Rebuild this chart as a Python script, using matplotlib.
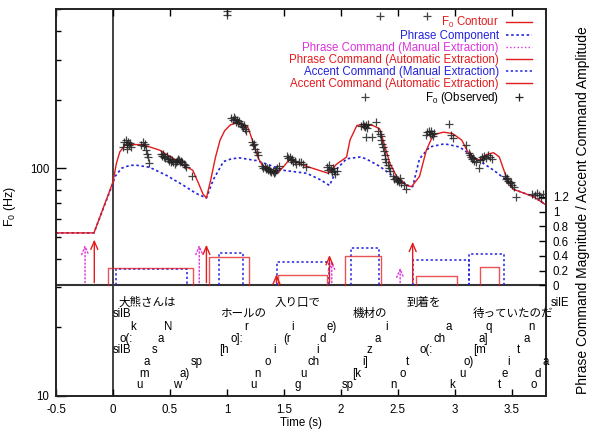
import numpy as np
import matplotlib
matplotlib.use('Agg')
import matplotlib.pyplot as plt
from matplotlib.lines import Line2D
from matplotlib.ticker import LogLocator, NullFormatter

plt.rcParams['font.family'] = ['Liberation Sans', 'Noto Sans CJK JP']
plt.rcParams['font.size'] = 8.3
plt.rcParams['mathtext.fontset'] = 'custom'
plt.rcParams['mathtext.rm'] = 'Liberation Sans'
plt.rcParams['mathtext.it'] = 'Liberation Sans:italic'

RED = '#e41a1c'
BLUE = '#2222dd'
MAG = '#dd33dd'

# F0 contour (model output)
f0_t = [-0.5, -0.167, 0.0, 0.03, 0.06, 0.105, 0.16, 0.26, 0.41, 0.56, 0.65, 0.70, 0.75, 0.79, 0.82,
        0.86, 0.90, 0.94, 0.98, 1.03, 1.10, 1.18, 1.23, 1.27, 1.31, 1.39, 1.46, 1.50, 1.54, 1.57,
        1.65, 1.75, 1.89, 1.96, 2.05, 2.08, 2.14, 2.20, 2.28, 2.34, 2.37, 2.43, 2.49, 2.58, 2.62,
        2.69, 2.75, 2.81, 2.90, 2.98, 3.06, 3.13, 3.22, 3.28, 3.34, 3.39, 3.45, 3.51, 3.69, 3.8]
f0_v = [52, 52, 87, 105, 118, 126, 127, 127, 120, 108, 101, 98, 86, 77, 74,
        90, 112, 133, 146, 155, 159, 153, 130, 112, 103, 97, 97, 102, 108, 109,
        104, 100, 95, 104, 112, 133, 154, 156, 154, 149, 133, 105, 92, 84, 83,
        92, 120, 140, 144, 142, 133, 114, 108, 115, 117, 112, 92, 81, 75, 69]

# phrase component
ph_t = [-0.5, -0.167, 0.0, 0.018, 0.076, 0.15, 0.21, 0.32, 0.47, 0.62, 0.73, 0.82,
        0.88, 0.97, 1.04, 1.11, 1.26, 1.38, 1.49, 1.70, 1.82, 1.90,
        1.97, 2.05, 2.17, 2.22, 2.34, 2.46, 2.59, 2.63,
        2.69, 2.78, 2.91, 3.04, 3.19, 3.34, 3.45, 3.51, 3.69, 3.8]
ph_v = [52, 52, 86, 92, 100, 103, 103, 101, 93, 84, 77.5, 74,
        89, 107, 110, 111, 108, 103, 98, 95, 89, 84,
        100, 110, 112, 110, 102, 92, 84, 83,
        110, 124, 128, 124, 110, 98, 89, 81, 75, 69]

# observed F0
obs_t = [0.09, 0.10, 0.11, 0.12, 0.13, 0.14, 0.15, 0.12, 0.16,
         0.25, 0.26, 0.27, 0.28, 0.29, 0.30, 0.31, 0.32,
         0.42, 0.43, 0.44, 0.45, 0.46, 0.47, 0.48, 0.49, 0.50, 0.51, 0.52, 0.53, 0.54, 0.55,
         0.56, 0.57, 0.58, 0.59, 0.60, 0.61, 0.62, 0.63, 0.64, 0.69,
         1.04, 1.05, 1.06, 1.07, 1.08, 1.09, 1.10, 1.11, 1.12, 1.13, 1.14, 1.15, 1.16, 1.17,
         1.22, 1.23, 1.24, 1.25, 1.26, 1.27,
         1.31, 1.32, 1.33, 1.34, 1.35, 1.36, 1.37, 1.38, 1.39, 1.40, 1.41, 1.42, 1.43, 1.44, 1.46,
         1.53, 1.54, 1.55, 1.56, 1.57, 1.58, 1.60, 1.61, 1.63, 1.65, 1.67, 1.69,
         1.88, 1.89, 1.90, 1.91, 1.92, 1.93, 1.94, 1.95, 1.97,
         2.18, 2.19, 2.20, 2.21, 2.22, 2.23, 2.24, 2.22, 2.27, 2.31,
         2.33, 2.34, 2.35, 2.355, 2.36, 2.37, 2.38, 2.385, 2.39, 2.40, 2.41, 2.42, 2.43,
         2.46, 2.47, 2.48, 2.49, 2.50, 2.51, 2.52, 2.53, 2.55, 2.57,
         2.75, 2.76, 2.77, 2.78, 2.79, 2.80, 2.81, 2.82, 2.95, 2.97, 2.98, 3.10,
         3.12, 3.13, 3.14, 3.15, 3.16, 3.17, 3.19, 3.21, 3.22, 3.24, 3.25, 3.26, 3.27, 3.29, 3.31, 3.33,
         3.44, 3.45, 3.46, 3.47, 3.48, 3.49, 3.50, 3.52, 3.54,
         3.68, 3.70, 3.72, 3.74, 3.76, 3.77,
         1.0, 1.0, 2.34, 2.76, 2.21]
obs_v = [124, 130, 133, 128, 131, 126, 129, 122, 124,
         127, 131, 125, 128, 120, 116, 112, 105,
         116, 113, 115, 112, 111, 113, 110, 108, 110, 107, 109, 106, 104, 107,
         108, 110, 109, 107, 108, 106, 104, 103, 101, 92,
         166, 162, 168, 164, 160, 163, 158, 161, 157, 154, 152, 155, 148, 145,
         131, 126, 128, 121, 118, 114,
         102, 100, 101, 99, 100, 98, 99, 97, 96, 97, 95, 96, 98, 100, 102,
         113, 111, 112, 109, 110, 107, 108, 104, 106, 107, 104, 101,
         101, 98, 103, 99, 96, 100, 97, 94, 97,
         153, 157, 154, 151, 155, 150, 156, 137, 137, 160,
         146, 142, 138, 133, 128, 124, 119, 114, 110, 106, 103, 100, 97,
         92, 90, 91, 88, 89, 87, 91, 86, 84, 81,
         140, 144, 146, 142, 145, 141, 138, 143, 156, 140, 136, 127,
         117, 114, 112, 110, 111, 108, 106, 100, 109, 112, 110, 113, 111, 114, 112, 110,
         92, 90, 91, 88, 86, 87, 84, 83, 75,
         77, 76, 78, 76, 74, 77,
         490, 470, 467, 466, 205]

# phrase commands: time and magnitude
pc_man_t = [-0.245, 0.757, 1.92, 2.52]
pc_man_a = [0.59, 0.59, 0.37, 0.28]
pc_auto_t = [-0.164, 0.82, 1.435, 1.90, 2.63]
pc_auto_a = [0.66, 0.59, 0.19, 0.45, 0.63]

# accent commands: onset, offset, amplitude
ac_man_on = [0.026, 0.93, 1.435, 2.085, 2.63, 3.125]
ac_man_off = [0.646, 1.14, 1.90, 2.335, 3.12, 3.43]
ac_man_a = [0.22, 0.44, 0.32, 0.51, 0.35, 0.42]
ac_auto_on = [-0.04, 0.84, 1.45, 2.04, 2.66, 3.22]
ac_auto_off = [0.70, 1.19, 1.88, 2.35, 3.02, 3.39]
ac_auto_a = [0.24, 0.39, 0.14, 0.40, 0.13, 0.25]

# transcription rows
rows = [-0.235, -0.39, -0.56, -0.73, -0.88, -1.04, -1.20, -1.355]
word_t = [0.046, 0.0, 0.939, 1.421, 2.103, 2.576, 3.158, 3.839, 0.0]
word_row = [0, 1, 1, 0, 1, 0, 1, 0, 4]
word_txt = ['大熊さんは', 'silB', 'ホールの', '入り口で', '機材の', '到着を', '待っていたのだ', 'silE', 'silB']

ph_lab_t = [0.178, 0.485, 1.173, 1.577, 1.918, 2.401, 2.95, 3.301, 3.673,
            0.114, 0.418, 1.085, 1.529, 1.845, 2.327, 2.862, 3.254, 3.629,
            0.362, 0.974, 1.421, 1.796, 2.254, 2.752, 3.219, 3.555,
            0.296, 0.739, 1.354, 1.757, 2.211, 2.585, 3.117, 3.468, 3.798,
            0.272, 0.632, 1.266, 1.669, 2.138, 2.538, 3.068, 3.439, 3.731,
            0.231, 0.564, 1.237, 1.623, 2.064, 2.465, 2.976, 3.395, 3.696]
ph_lab_row = [2]*9 + [3]*9 + [4]*8 + [5]*9 + [6]*9 + [7]*9
ph_lab_txt = ['k', 'N', 'r', 'i', 'e)', 'i', 'a', 'q', 'n',
              'o(:', 'a', 'o]:', '(r', 'd', 'a', 'ch', 'a]', 'a',
              's', '[h', 'i', 'i', 'z', 'o(:', '[m', 't',
              'a', 'sp', 'o', 'ch', 'i]', 't', 'o)', 'i', 'a',
              'm', 'a)', 'n', 'u', '[k', 'o', 'u', 'e', 'd',
              'u', 'w', 'u', 'g', 'sp', 'n', 'k', 't', 'o']

mag_ticks = [0, 0.2, 0.4, 0.6, 0.8, 1.0, 1.2]
mag_labels = ['0', '0.2', '0.4', '0.6', '0.8', '1', '1.2']
xticks = [-0.5, 0, 0.5, 1, 1.5, 2, 2.5, 3, 3.5]

fig = plt.figure(figsize=(5.92, 4.32), dpi=100)
ax = fig.add_axes([56/592, 36/432, 490/592, 387/432])
ax.set_yscale('log')
ax.set_xlim(-0.5, 3.8)
ax.set_ylim(10, 500)

ax.axvline(0, color='#333333', lw=1.3, zorder=1)
ax.plot(ph_t, ph_v, color=BLUE, lw=1.2, dashes=(1.5, 1.6), zorder=3)
ax.plot(f0_t, f0_v, color=RED, lw=1.0, zorder=4)
ax.plot(obs_t, obs_v, ls='none', marker='+', ms=6, mew=0.9, color='#222222', alpha=0.85, zorder=5)

ax.set_xticks(xticks)
ax.set_xticklabels(['-0.5', '0', '0.5', '1', '1.5', '2', '2.5', '3', '3.5'])
ax.set_yticks([10, 100])
ax.set_yticklabels(['10', '100'])
ax.yaxis.set_minor_locator(LogLocator(subs=range(2, 10)))
ax.yaxis.set_minor_formatter(NullFormatter())
ax.tick_params(axis='x', direction='in', top=True, length=5, width=1, pad=6)
ax.tick_params(axis='y', which='major', direction='in', length=7, width=1, pad=5)
ax.tick_params(axis='y', which='minor', direction='in', length=3.5, width=1)
ax.set_xlabel('Time (s)')
ax.xaxis.set_label_coords(0.5, -0.055)
ax.set_ylabel('F$_0$ (Hz)', fontsize=9)
ax.yaxis.set_label_coords(-0.078, 0.49)

ax2 = ax.twinx()
ax2.set_ylim(-1.5, 3.75)
ax2.axhline(0, color='#333333', lw=1.5, zorder=1)

for t, a in zip(pc_man_t, pc_man_a):
    ax2.annotate('', xy=(t, a), xytext=(t, 0),
                 arrowprops=dict(arrowstyle='->,head_length=0.7,head_width=0.3', color=MAG, lw=1.0, ls=':'))
for t, a in zip(pc_auto_t, pc_auto_a):
    ax2.annotate('', xy=(t, a), xytext=(t, 0),
                 arrowprops=dict(arrowstyle='->,head_length=0.7,head_width=0.3', color=RED, lw=1.0))
for t0, t1, a in zip(ac_man_on, ac_man_off, ac_man_a):
    ax2.plot([t0, t0, t1, t1], [0, a, a, 0], color=BLUE, lw=1.1, dashes=(1.5, 1.6))
for t0, t1, a in zip(ac_auto_on, ac_auto_off, ac_auto_a):
    ax2.plot([t0, t0, t1, t1], [0, a, a, 0], color=RED, lw=1.0, alpha=0.75)

for t, r, s in zip(word_t, word_row, word_txt):
    ax2.text(t, rows[r], s, ha='left', va='center', clip_on=False)
for t, r, s in zip(ph_lab_t, ph_lab_row, ph_lab_txt):
    ax2.text(t, rows[r], s, ha='center', va='center', clip_on=False)

ax2.set_yticks(mag_ticks)
ax2.set_yticklabels(mag_labels)
ax2.tick_params(axis='y', direction='in', length=5, width=1, pad=5)
ax2.set_ylabel('Phrase Command Magnitude / Accent Command Amplitude', fontsize=10)
ax2.yaxis.set_label_coords(1.062, 0.48)

for a_ in (ax, ax2):
    for sp in a_.spines.values():
        sp.set_linewidth(1.2)
        sp.set_color('#222222')

handles = [Line2D([], [], color=RED, lw=1.0),
           Line2D([], [], color=BLUE, lw=1.2, dashes=(1.5, 1.6)),
           Line2D([], [], color=MAG, lw=1.0, ls=':'),
           Line2D([], [], color=RED, lw=1.0),
           Line2D([], [], color=BLUE, lw=1.1, dashes=(1.5, 1.6)),
           Line2D([], [], color=RED, lw=1.0),
           Line2D([], [], ls='none', marker='+', ms=6, mew=0.9, color='#222222')]
labels = ['F$_0$ Contour', 'Phrase Component', 'Phrase Command (Manual Extraction)',
          'Phrase Command (Automatic Extraction)', 'Accent Command (Manual Extraction)',
          'Accent Command (Automatic Extraction)', 'F$_0$ (Observed)']
ax2.legend(handles, labels, loc='upper right', bbox_to_anchor=(0.972, 0.985), frameon=False,
           markerfirst=False, labelcolor=[RED, BLUE, MAG, RED, BLUE, RED, 'black'],
           handlelength=2.3, handletextpad=0.6, labelspacing=0.0, borderpad=0, borderaxespad=0)

fig.savefig('out.png', dpi=100)
